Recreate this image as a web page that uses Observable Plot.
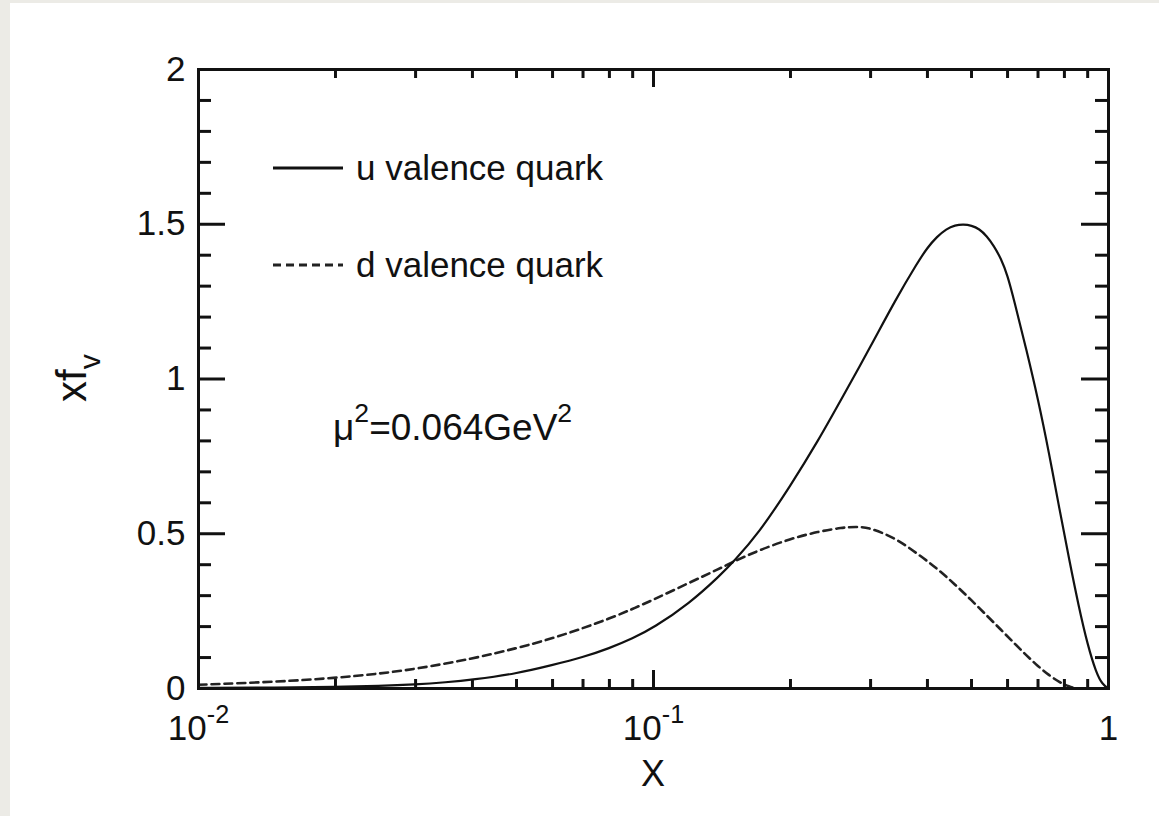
<!DOCTYPE html>
<html><head><meta charset="utf-8">
<script src="https://cdn.jsdelivr.net/npm/d3@7"></script>
<script src="https://cdn.jsdelivr.net/npm/@observablehq/plot@0.6"></script>
<style>
html,body{margin:0;padding:0;width:1159px;height:816px;overflow:hidden;background:#ecebe6;}
#panel{position:absolute;left:10px;top:3px;right:0;bottom:0;background:#fff;}
#chart{position:absolute;left:0;top:0;}
</style></head><body><div id="panel"></div><div id="chart"></div>
<script>
// ---- data ----
const uX = [0.01,0.015,0.02,0.025,0.03,0.035,0.04,0.05,0.06,0.07,0.08,0.09,0.1,0.12,0.14,0.15,0.17,0.2,0.23,0.26,0.3,0.34,0.38,0.4,0.42,0.44,0.46,0.48,0.5,0.52,0.54,0.56,0.58,0.6,0.62,0.66,0.7,0.74,0.78,0.82,0.86,0.9,0.94,0.97,1.0];
const uV = [0.002,0.003,0.005,0.008,0.013,0.02,0.028,0.048,0.076,0.101,0.13,0.162,0.196,0.275,0.365,0.41,0.50,0.655,0.80,0.94,1.105,1.255,1.375,1.425,1.46,1.485,1.497,1.5,1.496,1.485,1.462,1.43,1.39,1.335,1.255,1.095,0.935,0.762,0.58,0.415,0.265,0.14,0.05,0.013,0.0];
const dX = [0.01,0.015,0.02,0.025,0.03,0.04,0.05,0.06,0.07,0.08,0.09,0.1,0.12,0.14,0.15,0.17,0.2,0.23,0.26,0.28,0.3,0.34,0.38,0.42,0.46,0.5,0.54,0.58,0.62,0.66,0.7,0.74,0.78,0.82,0.85];
const dV = [0.012,0.022,0.034,0.048,0.063,0.096,0.13,0.162,0.195,0.226,0.257,0.287,0.342,0.388,0.41,0.446,0.484,0.507,0.52,0.523,0.519,0.486,0.436,0.388,0.336,0.285,0.236,0.19,0.147,0.107,0.072,0.043,0.02,0.006,0.0];

const xMajor = [0.01, 0.1, 1];
const xTickLabels = ["10^{-2}", "10^{-1}", "1"];
const xMinor = [0.02,0.03,0.04,0.05,0.06,0.07,0.08,0.09,0.2,0.3,0.4,0.5,0.6,0.7,0.8,0.9];
const yMajor = [0, 0.5, 1, 1.5, 2];
const yTickLabels = ["0", "0.5", "1", "1.5", "2"];
const yMinor = [0.1,0.2,0.3,0.4,0.6,0.7,0.8,0.9,1.1,1.2,1.3,1.4,1.6,1.7,1.8,1.9];

const seriesNames = ["u valence quark", "d valence quark"];
const xTitle = "X";
const yTitle = "xf_{v}";
const note = "\u03bc^{2}=0.064GeV^{2}";

// ---- styles ----
const FONT = "'Liberation Sans', Arial, Helvetica, sans-serif";
const INK = "#111";
const solidStyle = {stroke: INK, strokeWidth: 2.2};
const dashStyle = {stroke: "#222", strokeWidth: 2.6, strokeDasharray: "8,5"};

const W = 1159, H = 816;
const mL = 198, mR = 51, mT = 69, mB = 128;
const FW = W - mL - mR, FH = H - mT - mB;

const uData = uX.map((x, i) => ({x, v: uV[i]}));
const dData = dX.map((x, i) => ({x, v: dV[i]}));

const chart = Plot.plot({
  width: W, height: H,
  marginLeft: mL, marginRight: mR, marginTop: mT, marginBottom: mB,
  style: {fontFamily: FONT, fontSize: "35px", background: "transparent", color: INK},
  x: {type: "log", domain: [0.01, 1]},
  y: {domain: [0, 2]},
  marks: [
    Plot.line(dData, {x: "x", y: "v", ...dashStyle, curve: "basis"}),
    Plot.line(uData, {x: "x", y: "v", ...solidStyle, curve: "basis"}),
    // ticks (inward, on all four sides)
    Plot.tickX(xMinor, {x: d => d, insetTop: FH - 9, stroke: INK, strokeWidth: 3}),
    Plot.tickX(xMinor, {x: d => d, insetBottom: FH - 9, stroke: INK, strokeWidth: 3}),
    Plot.tickX(xMajor, {x: d => d, insetTop: FH - 18, stroke: INK, strokeWidth: 3}),
    Plot.tickX(xMajor, {x: d => d, insetBottom: FH - 18, stroke: INK, strokeWidth: 3}),
    Plot.tickY(yMinor, {y: d => d, insetRight: FW - 13, stroke: INK, strokeWidth: 3}),
    Plot.tickY(yMinor, {y: d => d, insetLeft: FW - 13, stroke: INK, strokeWidth: 3}),
    Plot.tickY(yMajor, {y: d => d, insetRight: FW - 27, stroke: INK, strokeWidth: 3}),
    Plot.tickY(yMajor, {y: d => d, insetLeft: FW - 27, stroke: INK, strokeWidth: 3}),
    Plot.axisX({ticks: xMajor, tickSize: 0, tickPadding: 27, label: null,
      tickFormat: d => xTickLabels[xMajor.indexOf(d)]}),
    Plot.axisY({ticks: yMajor, tickSize: 0, tickPadding: 13, label: null,
      tickFormat: d => yTickLabels[yMajor.indexOf(d)]}),
    Plot.frame({stroke: INK, strokeWidth: 3})
  ]
});
document.getElementById("chart").appendChild(chart);

const svg = d3.select(chart);

// axis titles
svg.append("text").attr("x", mL + FW / 2).attr("y", 786).attr("text-anchor", "middle")
  .attr("font-size", 36).attr("fill", INK).attr("font-family", FONT).text(xTitle);
svg.append("text").attr("transform", "translate(86,378) rotate(-90)").attr("text-anchor", "middle")
  .attr("font-size", 42).attr("fill", INK).attr("font-family", FONT).text(yTitle);

// annotation
svg.append("text").attr("x", 333).attr("y", 440).attr("font-size", 37).attr("text-anchor", "start")
  .attr("fill", INK).attr("font-family", FONT).text(note);

// legend
const legendStyles = [solidStyle, dashStyle];
const legendY = [168, 265];
seriesNames.forEach((name, i) => {
  const s = legendStyles[i];
  svg.append("line").attr("x1", 273).attr("x2", 343).attr("y1", legendY[i]).attr("y2", legendY[i])
    .attr("stroke", s.stroke).attr("stroke-width", s.strokeWidth + 0.6)
    .attr("stroke-dasharray", s.strokeDasharray || null);
  svg.append("text").attr("x", 356).attr("y", legendY[i] + 12).attr("font-size", 35)
    .attr("text-anchor", "start")
    .attr("fill", INK).attr("font-family", FONT).text(name);
});

// rich text: ^{..} superscript, _{..} subscript
function richify(el) {
  const raw = el.textContent;
  if (!/[\^_]\{/.test(raw)) return;
  const fs = parseFloat(getComputedStyle(el).fontSize) || 35;
  el.textContent = "";
  const re = /([\^_])\{([^}]*)\}|([^\^_]+)/g;
  let m;
  while ((m = re.exec(raw))) {
    const t = document.createElementNS("http://www.w3.org/2000/svg", "tspan");
    if (m[3] !== undefined) t.textContent = m[3];
    else {
      t.textContent = m[2];
      t.setAttribute("font-size", (fs * 0.72).toFixed(1));
      t.setAttribute("baseline-shift", m[1] === "^" ? (fs * 0.5).toFixed(1) : (-fs * 0.33).toFixed(1));
    }
    el.appendChild(t);
  }
}
chart.querySelectorAll("text").forEach(richify);
</script></body></html>
